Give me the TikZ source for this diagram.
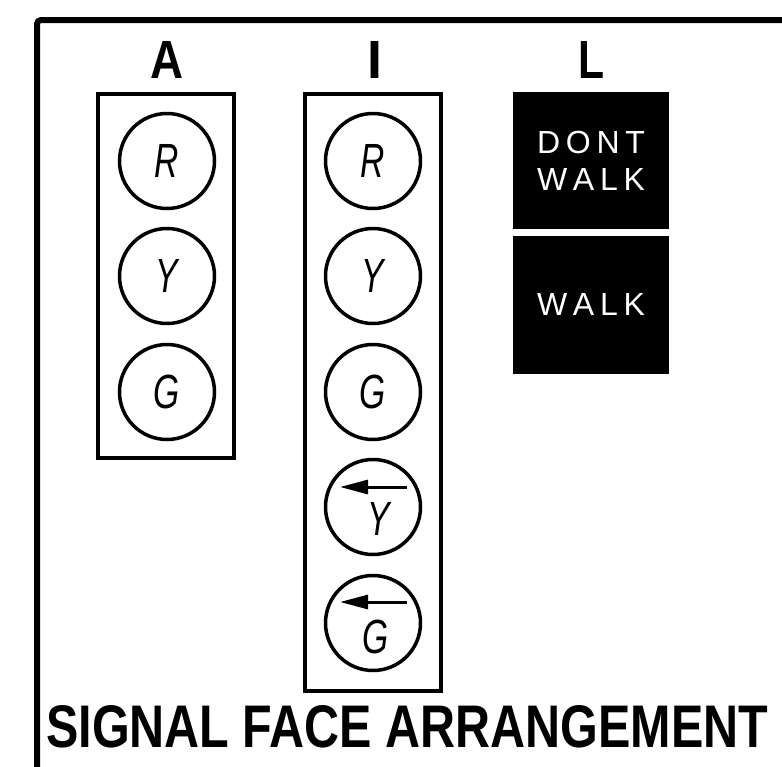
\documentclass[tikz,border=0pt]{standalone}
\usepackage{fontspec}
\setmainfont{Liberation Sans}
\usetikzlibrary{arrows.meta}
\begin{document}
\begin{tikzpicture}[x=1pt,y=-1pt,
  frameline/.style={line width=6pt},
  housing/.style={draw,line width=3.5pt},
  lamp/.style={circle,draw,line width=3.5pt,minimum size=95pt,inner sep=0pt,
    font=\fontsize{48}{48}\selectfont\itshape},
  lampletter/.style={inner sep=0pt,font=\fontsize{48}{48}\selectfont\itshape},
  headlabel/.style={inner sep=0pt,anchor=base},
  pedbox/.style={fill=black,draw=black,line width=1pt},
  pedtext/.style={text=white,inner sep=0pt,anchor=base,font=\fontsize{32}{32}\selectfont},
  turnarrow/.style={line width=3pt,-{Triangle[length=28pt,width=14pt]}}
]
\useasboundingbox (0,0) rectangle (782,766);
\fill[white] (0,0) rectangle (782,766);
% frame
\draw[frameline,rounded corners=4pt] (790,20) -- (37,20) -- (37,770);
% headings
\node[headlabel] (labA) at (167,78) {\resizebox{33pt}{37pt}{\bfseries A}};
\node[headlabel] (labI) at (375,78) {\resizebox{!}{37pt}{\bfseries I}};
\node[headlabel] (labL) at (591,78) {\resizebox{26pt}{37pt}{\bfseries L}};
% housings
\draw[housing] (98,94) rectangle (234,458);
\draw[housing] (305,94) rectangle (441,691);
% A lamps
\node[lamp] (aR) at (167,161) {\scalebox{0.7}[1]{R}};
\node[lamp] (aY) at (167,276) {\scalebox{0.7}[1]{Y}};
\node[lamp] (aG) at (167,392) {\scalebox{0.7}[1]{G}};
% I lamps
\node[lamp] (iR) at (373,161) {\scalebox{0.7}[1]{R}};
\node[lamp] (iY) at (373,276) {\scalebox{0.7}[1]{Y}};
\node[lamp] (iG) at (373,392) {\scalebox{0.7}[1]{G}};
\node[lamp] (iYa) at (373,507) {};
\node[lamp] (iGa) at (373,623) {};
\node[lampletter] (iYaL) at (379,519) {\scalebox{0.7}[1]{Y}};
\node[lampletter] (iGaL) at (376,637) {\scalebox{0.7}[1]{G}};
\draw[turnarrow] ([xshift=34pt,yshift=20pt]iYa.center) -- ([xshift=-33pt,yshift=20pt]iYa.center);
\draw[turnarrow] ([xshift=34pt,yshift=21pt]iGa.center) -- ([xshift=-33pt,yshift=21pt]iGa.center);
% pedestrian signal
\draw[pedbox] (513,92) rectangle (668,228);
\draw[pedbox] (513,236) rectangle (668,373);
\node[pedtext] (dont) at (591,153) {\makebox[108pt][s]{D\hfil O\hfil N\hfil T}};
\node[pedtext] (walk1) at (591,190) {\makebox[108pt][s]{W\hfil A\hfil L\hfil K}};
\node[pedtext] (walk2) at (591,315) {\makebox[108pt][s]{W\hfil A\hfil L\hfil K}};
% title
\node[anchor=base west,inner sep=0pt] (title) at (46,747) {\resizebox{722pt}{42pt}{\bfseries SIGNAL FACE ARRANGEMENT}};
\end{tikzpicture}
\end{document}
